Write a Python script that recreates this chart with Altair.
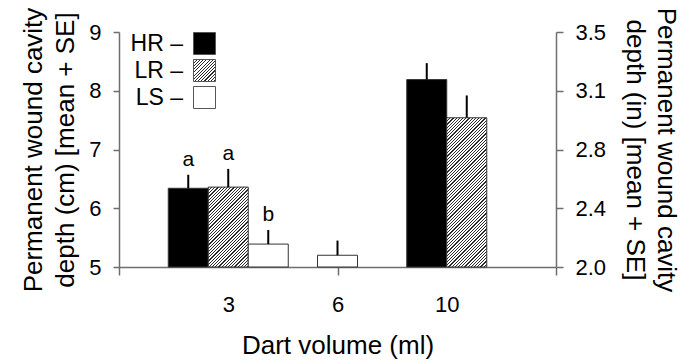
import json
import altair as alt
import pandas as pd

# ---- data ----
volumes = [3, 3, 3, 6, 10, 10]
series = ["HR", "LR", "LS", "LS", "HR", "LR"]
means = [6.34, 6.36, 5.39, 5.20, 8.19, 7.54]
ses = [0.23, 0.31, 0.24, 0.25, 0.28, 0.38]
letters = ["a", "a", "b", "", "", ""]
volume_labels = ["3", "6", "10"]
series_order = ["HR", "LR", "LS"]
left_ticks = [5, 6, 7, 8, 9]

# ---- layout / style ----
FONT = "Liberation Sans"
W, H = 437, 235
Y0, Y1 = 5, 9
X0, X1 = 0, 4
PX_X = W / (X1 - X0)
PX_Y = H / (Y1 - Y0)
BAR_PX = 40
BAR_W = BAR_PX / PX_X
AXIS_COLOR = "#6e6e6e"
TITLE_FS = 26
LABEL_FS = 22

df = pd.DataFrame(dict(volume=volumes, series=series, mean=means, se=ses, letter=letters))
df["top"] = df["mean"] + df["se"]
groups = sorted(set(volumes))
df["g"] = df["volume"].map({v: i + 1 for i, v in enumerate(groups)})
cnt = df.groupby("volume")["series"].transform("count")
df["slot"] = df.groupby("volume").cumcount() - (cnt - 1) / 2
df["pos"] = df["g"] + df["slot"] * BAR_W
df["left"] = df["pos"] - BAR_W / 2
df["right"] = df["pos"] + BAR_W / 2


def hatch(w, h, s=3.2, frac=0.36, ink="#2a2a2a", paper="#ffffff"):
    """linear gradient with hard stops -> 45 degree hatching in a w x h box"""
    k = (w + h) / (w * w + h * h)
    n = (w + h) / s
    p = 1.0 / n
    stops = []
    i = 0
    while i * p < 1:
        a = i * p
        b = min(a + frac * p, 1.0)
        c = min(a + p, 1.0)
        stops += [
            {"offset": round(a, 5), "color": ink},
            {"offset": round(b, 5), "color": ink},
            {"offset": round(b, 5), "color": paper},
            {"offset": round(c, 5), "color": paper},
        ]
        i += 1
    return {"gradient": "linear", "x1": 0, "y1": 0,
            "x2": round(w * k, 5), "y2": round(h * k, 5), "stops": stops}


legend_grad = hatch(22, 22)
conditions = []
for _, r in df[df["series"] == "LR"].iterrows():
    conditions.append({
        "test": f"datum.series === 'LR' && datum.volume === {int(r['volume'])}",
        "value": hatch(BAR_PX, (r["mean"] - Y0) * PX_Y),
    })

label_expr = " : ".join(
    f"datum.value == {i + 1} ? '{lab}'" for i, lab in enumerate(volume_labels)
) + " : ''"

xscale = alt.Scale(domain=[X0, X1], nice=False, zero=False)
yscale = alt.Scale(domain=[Y0, Y1], nice=False, zero=False)


def xenc(field):
    return alt.X(
        f"{field}:Q", scale=xscale,
        axis=alt.Axis(
            values=list(range(X0, X1 + 1)), labelExpr=label_expr,
            tickOpacity={"condition": {"test": "datum.value == 1 || datum.value == 3", "value": 0}, "value": 1},
            title="Dart volume (ml)", grid=False, tickSize=8, labelPadding=19,
            labelFontSize=LABEL_FS, titleFontSize=TITLE_FS, titlePadding=17,
            titleFontWeight="normal", labelFlush=False,
        ),
    )


left_axis = alt.Axis(
    orient="left", values=left_ticks, grid=False, tickSize=6, labelPadding=12,
    labelFontSize=LABEL_FS, title=["Permanent wound cavity", "depth (cm) [mean + SE]"],
    titleFontSize=TITLE_FS, titleFontWeight="normal", titlePadding=10, titleLineHeight=32,
)
right_axis = alt.Axis(
    orient="right", values=left_ticks, grid=False, tickSize=7, labelPadding=12,
    labelExpr="format(datum.value / 2.54, '.1f')",
    labelFontSize=LABEL_FS, title=["Permanent wound cavity", "depth (in) [mean + SE]"],
    titleFontSize=TITLE_FS, titleFontWeight="normal", titlePadding=16, titleLineHeight=31,
)

base = alt.Chart(df)

bars = base.mark_bar(stroke="#333333", strokeWidth=1).encode(
    x=xenc("left"),
    x2="right:Q",
    y=alt.Y("mean:Q", scale=yscale, axis=left_axis),
    y2=alt.datum(Y0),
    fill=alt.Fill(
        "series:N",
        scale=alt.Scale(domain=series_order,
                        range=["#000000", alt.ExprRef(expr=json.dumps(legend_grad)), "#ffffff"]),
        legend=alt.Legend(
            title=None, orient="none", legendX=74, legendY=0, symbolType="square",
            symbolSize=484, symbolStrokeColor="#555555", symbolStrokeWidth=1,
            labelAlign="right", labelOffset=alt.ExprRef(expr="-33"), labelFontSize=23,
            labelExpr="datum.label + ' \u2013'", rowPadding=0, padding=0,
        ),
        condition=conditions,
    ),
)

errs = base.mark_rule(color="black", strokeWidth=2).encode(
    x=xenc("pos"),
    y=alt.Y("mean:Q", scale=yscale, axis=right_axis),
    y2="top:Q",
)

txt = base.transform_filter("datum.letter != ''").mark_text(
    baseline="bottom", dy=-5, fontSize=21, font=FONT
).encode(
    x=xenc("pos"),
    y=alt.Y("top:Q", scale=yscale, axis=None),
    text="letter:N",
)

chart = (
    alt.layer(bars, errs, txt)
    .resolve_axis(y="independent")
    .properties(
        width=W, height=H,
        autosize=alt.AutoSizeParams(type="none"),
        padding={"left": 111, "top": 24, "right": 128, "bottom": 110},
    )
    .configure(font=FONT)
    .configure_view(stroke=None)
    .configure_axis(domainColor=AXIS_COLOR, tickColor=AXIS_COLOR, domainWidth=1.5,
                    tickWidth=1.5, labelColor="black", titleColor="black")
    .configure_legend(labelColor="black")
)

chart.save("out.html", embed_options={"renderer": "svg", "actions": False})
